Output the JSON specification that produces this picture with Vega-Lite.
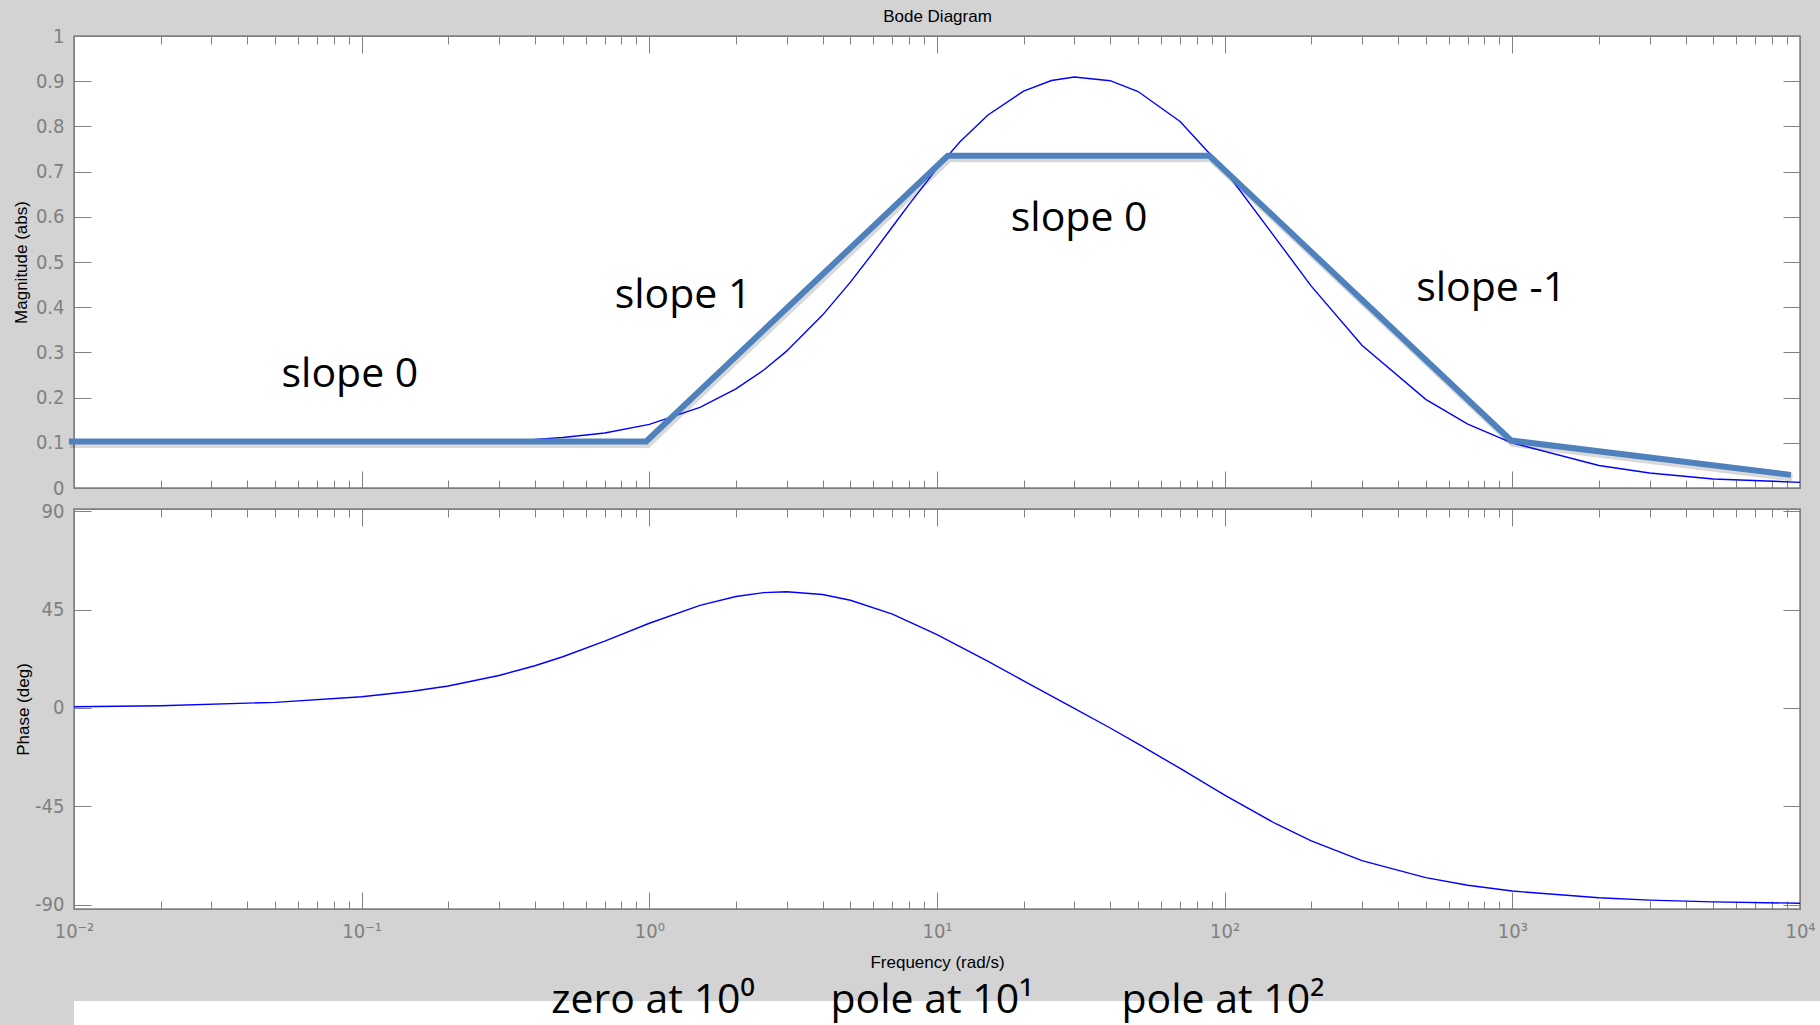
{
  "$schema": "https://vega.github.io/schema/vega-lite/v6.json",
  "background": "#d3d3d3",
  "padding": {"left": 11, "top": 6, "right": 0, "bottom": 0},
  "spacing": 1,
  "config": {
    "view": {"stroke": "#808080", "strokeWidth": 1.5, "fill": "white"},
    "axis": {"grid": false, "domainColor": "#808080", "tickColor": "#808080", "labelColor": "#808080", "labelFont": "Liberation Sans Narrow, DejaVu Sans Condensed, sans-serif", "labelFontSize": 20, "labelFlush": false, "labelOverlap": false, "titleFont": "Liberation Sans, Arial, sans-serif", "titleFontSize": 17, "titleFontWeight": "normal", "titleColor": "black"}
  },
  "datasets": {
    "mag": [
      {"f": 0.01, "m": 0.1}, {"f": 0.02, "m": 0.1}, {"f": 0.05, "m": 0.1001}, {"f": 0.1, "m": 0.1005},
      {"f": 0.15, "m": 0.1011}, {"f": 0.2, "m": 0.102}, {"f": 0.3, "m": 0.1044}, {"f": 0.4, "m": 0.1076},
      {"f": 0.5, "m": 0.1117}, {"f": 0.7, "m": 0.1218}, {"f": 1, "m": 0.1407}, {"f": 1.5, "m": 0.1783},
      {"f": 2, "m": 0.2192}, {"f": 2.5, "m": 0.2611}, {"f": 3, "m": 0.3028}, {"f": 4, "m": 0.3825},
      {"f": 5, "m": 0.4555}, {"f": 6, "m": 0.5207}, {"f": 7, "m": 0.5779}, {"f": 8, "m": 0.6276},
      {"f": 10, "m": 0.7071}, {"f": 12, "m": 0.7654}, {"f": 15, "m": 0.8246}, {"f": 20, "m": 0.8781},
      {"f": 25, "m": 0.9015}, {"f": 30, "m": 0.9092}, {"f": 40, "m": 0.9011}, {"f": 50, "m": 0.8772},
      {"f": 70, "m": 0.811}, {"f": 100, "m": 0.7036}, {"f": 150, "m": 0.5535}, {"f": 200, "m": 0.4467},
      {"f": 300, "m": 0.316}, {"f": 500, "m": 0.1961}, {"f": 700, "m": 0.1414}, {"f": 1000, "m": 0.0995},
      {"f": 2000, "m": 0.0499}, {"f": 3000, "m": 0.0333}, {"f": 5000, "m": 0.02}, {"f": 10000, "m": 0.0125}
    ],
    "asym": [
      {"f": 0.0096, "m": 0.103}, {"f": 0.975, "m": 0.103}, {"f": 10.9, "m": 0.735},
      {"f": 88.5, "m": 0.735}, {"f": 990, "m": 0.105}, {"f": 9300, "m": 0.029}
    ],
    "slopes": [
      {"f": 0.091, "m": 0.2235, "label": "slope 0"},
      {"f": 1.31, "m": 0.398, "label": "slope 1"},
      {"f": 31.2, "m": 0.5686, "label": "slope 0"},
      {"f": 844, "m": 0.413, "label": "slope -1"}
    ],
    "phase": [
      {"f": 0.01, "p": 0.51}, {"f": 0.02, "p": 1.02}, {"f": 0.05, "p": 2.55}, {"f": 0.1, "p": 5.08},
      {"f": 0.15, "p": 7.59}, {"f": 0.2, "p": 10.05}, {"f": 0.3, "p": 14.81}, {"f": 0.4, "p": 19.28},
      {"f": 0.5, "p": 23.42}, {"f": 0.7, "p": 30.58}, {"f": 1, "p": 38.72}, {"f": 1.5, "p": 46.92},
      {"f": 2, "p": 50.98}, {"f": 2.5, "p": 52.73}, {"f": 3, "p": 53.15}, {"f": 4, "p": 51.87},
      {"f": 5, "p": 49.26}, {"f": 7, "p": 42.88}, {"f": 10, "p": 33.58}, {"f": 15, "p": 21.35},
      {"f": 20, "p": 12.4}, {"f": 30, "p": -0.18}, {"f": 40, "p": -9.19}, {"f": 50, "p": -16.41},
      {"f": 70, "p": -27.68}, {"f": 100, "p": -39.86}, {"f": 150, "p": -52.88}, {"f": 200, "p": -60.86},
      {"f": 300, "p": -69.85}, {"f": 500, "p": -77.65}, {"f": 700, "p": -81.13}, {"f": 1000, "p": -83.78},
      {"f": 2000, "p": -86.88}, {"f": 3000, "p": -87.92}, {"f": 5000, "p": -88.75}, {"f": 10000, "p": -89.38}
    ],
    "notes": [
      {"f": 1.03, "label": "zero at 10⁰"},
      {"f": 9.6, "label": "pole at 10¹"},
      {"f": 98.6, "label": "pole at 10²"}
    ]
  },
  "vconcat": [
    {
      "width": 1726,
      "height": 452,
      "layer": [
        {
          "data": {"name": "asym"},
          "mark": {"type": "line", "color": "#000000", "opacity": 0.15, "strokeWidth": 7, "xOffset": 1.5, "yOffset": 3},
          "encoding": {
            "x": {"field": "f", "type": "quantitative", "scale": {"type": "log", "domain": [0.01, 10000]},
              "axis": {"orient": "bottom", "values": [0.01,0.02,0.03,0.04,0.05,0.06,0.07,0.08,0.09,0.1,0.2,0.3,0.4,0.5,0.6,0.7,0.8,0.9,1,2,3,4,5,6,7,8,9,10,20,30,40,50,60,70,80,90,100,200,300,400,500,600,700,800,900,1000,2000,3000,4000,5000,6000,7000,8000,9000,10000],
                "labels": false, "title": null, "minExtent": 0, "maxExtent": 0,
                "tickSize": {"condition": {"test": "datum.value==0.01||datum.value==0.1||datum.value==1||datum.value==10||datum.value==100||datum.value==1000||datum.value==10000", "value": -17}, "value": -8}}},
            "y": {"field": "m", "type": "quantitative", "scale": {"domain": [0, 1], "nice": false, "zero": false},
              "axis": {"orient": "left", "values": [0,0.1,0.2,0.3,0.4,0.5,0.6,0.7,0.8,0.9,1], "tickSize": -17, "labelPadding": 27, "labelExpr": "''+datum.value",
                "title": "Magnitude (abs)", "titleX": -48, "titleBaseline": "alphabetic"}}
          }
        },
        {
          "data": {"name": "mag"},
          "mark": {"type": "line", "color": "#0000ff", "strokeWidth": 1.4},
          "encoding": {
            "x": {"field": "f", "type": "quantitative", "scale": {"type": "log", "domain": [0.01, 10000]},
              "axis": {"orient": "top", "values": [0.01,0.02,0.03,0.04,0.05,0.06,0.07,0.08,0.09,0.1,0.2,0.3,0.4,0.5,0.6,0.7,0.8,0.9,1,2,3,4,5,6,7,8,9,10,20,30,40,50,60,70,80,90,100,200,300,400,500,600,700,800,900,1000,2000,3000,4000,5000,6000,7000,8000,9000,10000],
                "labels": false, "minExtent": 0, "maxExtent": 0,
                "title": "Bode Diagram", "titleY": -15, "titleBaseline": "alphabetic",
                "tickSize": {"condition": {"test": "datum.value==0.01||datum.value==0.1||datum.value==1||datum.value==10||datum.value==100||datum.value==1000||datum.value==10000", "value": -17}, "value": -8}}},
            "y": {"field": "m", "type": "quantitative", "scale": {"domain": [0, 1], "nice": false, "zero": false},
              "axis": {"orient": "right", "values": [0,0.1,0.2,0.3,0.4,0.5,0.6,0.7,0.8,0.9,1], "tickSize": -17, "labels": false, "title": null, "minExtent": 0, "maxExtent": 0}}
          }
        },
        {
          "data": {"name": "asym"},
          "mark": {"type": "line", "color": "#4f81bd", "strokeWidth": 6},
          "encoding": {
            "x": {"field": "f", "type": "quantitative", "scale": {"type": "log", "domain": [0.01, 10000]}, "axis": null},
            "y": {"field": "m", "type": "quantitative", "scale": {"domain": [0, 1], "nice": false, "zero": false}, "axis": null}
          }
        },
        {
          "data": {"name": "slopes"},
          "mark": {"type": "text", "font": "Open Sans", "fontSize": 41, "baseline": "alphabetic", "align": "center", "color": "black"},
          "encoding": {
            "x": {"field": "f", "type": "quantitative", "scale": {"type": "log", "domain": [0.01, 10000]}, "axis": null},
            "y": {"field": "m", "type": "quantitative", "scale": {"domain": [0, 1], "nice": false, "zero": false}, "axis": null},
            "text": {"field": "label"}
          }
        }
      ],
      "resolve": {"axis": {"x": "independent", "y": "independent"}}
    },
    {
      "width": 1726,
      "height": 400,
      "layer": [
        {
          "data": {"name": "phase"},
          "mark": {"type": "line", "color": "#0000ff", "strokeWidth": 1.4},
          "encoding": {
            "x": {"field": "f", "type": "quantitative", "scale": {"type": "log", "domain": [0.01, 10000]},
              "axis": {"orient": "bottom", "values": [0.01,0.02,0.03,0.04,0.05,0.06,0.07,0.08,0.09,0.1,0.2,0.3,0.4,0.5,0.6,0.7,0.8,0.9,1,2,3,4,5,6,7,8,9,10,20,30,40,50,60,70,80,90,100,200,300,400,500,600,700,800,900,1000,2000,3000,4000,5000,6000,7000,8000,9000,10000],
                "labelPadding": 29,
                "labelExpr": "datum.value==0.01?'10⁻²':datum.value==0.1?'10⁻¹':datum.value==1?'10⁰':datum.value==10?'10¹':datum.value==100?'10²':datum.value==1000?'10³':datum.value==10000?'10⁴':''",
                "title": "Frequency (rad/s)", "titleY": 58, "titleBaseline": "alphabetic",
                "tickSize": {"condition": {"test": "datum.value==0.01||datum.value==0.1||datum.value==1||datum.value==10||datum.value==100||datum.value==1000||datum.value==10000", "value": -17}, "value": -8}}},
            "y": {"field": "p", "type": "quantitative", "scale": {"domain": [-92, 91], "nice": false, "zero": false},
              "axis": {"orient": "left", "values": [-90, -45, 0, 45, 90], "tickSize": -17, "labelPadding": 27, "labelExpr": "''+datum.value",
                "title": "Phase (deg)", "titleX": -46, "titleBaseline": "alphabetic"}}
          }
        },
        {
          "data": {"name": "phase"},
          "mark": {"type": "line", "color": "#0000ff", "strokeOpacity": 0},
          "encoding": {
            "x": {"field": "f", "type": "quantitative", "scale": {"type": "log", "domain": [0.01, 10000]},
              "axis": {"orient": "top", "values": [0.01,0.02,0.03,0.04,0.05,0.06,0.07,0.08,0.09,0.1,0.2,0.3,0.4,0.5,0.6,0.7,0.8,0.9,1,2,3,4,5,6,7,8,9,10,20,30,40,50,60,70,80,90,100,200,300,400,500,600,700,800,900,1000,2000,3000,4000,5000,6000,7000,8000,9000,10000],
                "labels": false, "title": null, "minExtent": 0, "maxExtent": 0,
                "tickSize": {"condition": {"test": "datum.value==0.01||datum.value==0.1||datum.value==1||datum.value==10||datum.value==100||datum.value==1000||datum.value==10000", "value": -17}, "value": -8}}},
            "y": {"field": "p", "type": "quantitative", "scale": {"domain": [-92, 91], "nice": false, "zero": false},
              "axis": {"orient": "right", "values": [-90, -45, 0, 45, 90], "tickSize": -17, "labels": false, "title": null, "minExtent": 0, "maxExtent": 0}}
          }
        }
      ],
      "resolve": {"axis": {"x": "independent", "y": "independent"}}
    },
    {
      "width": 1747,
      "height": 24,
      "view": {"fill": "white", "stroke": null},
      "data": {"name": "notes"},
      "mark": {"type": "text", "font": "Open Sans", "fontSize": 41, "baseline": "alphabetic", "align": "center", "dy": 0, "color": "black"},
      "encoding": {
        "x": {"field": "f", "type": "quantitative", "scale": {"type": "log", "domain": [0.01, 11830]},
          "axis": {"orient": "top", "labels": false, "ticks": false, "domain": false, "title": null, "minExtent": 29, "maxExtent": 29}},
        "text": {"field": "label"}
      }
    }
  ]
}
